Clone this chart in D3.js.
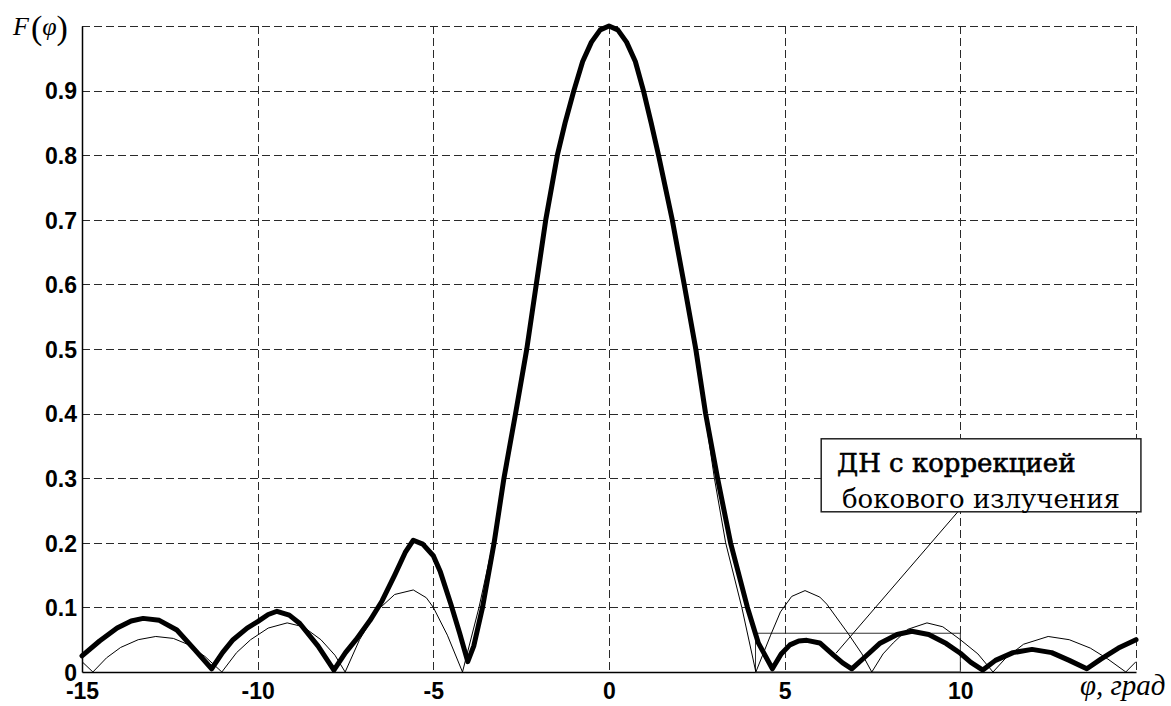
<!DOCTYPE html>
<html>
<head>
<meta charset="utf-8">
<script src="https://cdn.jsdelivr.net/npm/d3@7"></script>
<style>
  body { margin: 0; background: #fff; }
  svg { display: block; }
  .tick text { font-family: "Liberation Sans", Arial, sans-serif; font-weight: bold; font-size: 23px; fill: #000; }
</style>
</head>
<body>
<svg width="1171" height="706"></svg>
<script>
// ДН без коррекции (тонкая линия)
var phiPlain = [-15, -14.69, -14.3, -13.9, -13.4, -12.9, -12.4, -12, -11.5, -11.02, -10.6, -10.2, -9.7, -9.16,
  -8.7, -8.2, -7.8, -7.51, -7.1, -6.6, -6.1, -5.57, -5.2, -5, -4.6, -4.17,
  -3.7, -3.3, -3, -2.67, -2.36, -2.07, -1.8, -1.45, -1.25, -1, -0.75, -0.5, -0.25, 0,
  0.25, 0.5, 0.75, 1, 1.22, 1.43, 1.8, 2.12, 2.43, 2.73, 3, 3.32, 3.78, 4.18,
  4.6, 4.88, 5.2, 5.58, 6, 6.2, 6.8, 7.2, 7.48, 7.8, 8.09, 8.5, 9.05, 9.5, 10, 10.5, 10.93,
  11.3, 11.8, 12.5, 13.1, 13.7, 14.2, 14.71, 15];
var fPlain = [0.016, 0, 0.022, 0.038, 0.05, 0.055, 0.052, 0.043, 0.024, 0, 0.03, 0.05, 0.068, 0.076,
  0.07, 0.05, 0.026, 0, 0.05, 0.095, 0.12, 0.127, 0.115, 0.1, 0.057, 0,
  0.1, 0.2, 0.3, 0.4, 0.5, 0.6, 0.7, 0.8, 0.85, 0.9, 0.945, 0.975, 0.994, 1,
  0.994, 0.975, 0.945, 0.9, 0.85, 0.8, 0.7, 0.6, 0.5, 0.4, 0.3, 0.2, 0.1, 0,
  0.057, 0.093, 0.117, 0.126, 0.116, 0.105, 0.06, 0.028, 0, 0.028, 0.045, 0.066, 0.076, 0.07, 0.05, 0.028, 0,
  0.022, 0.043, 0.055, 0.05, 0.037, 0.02, 0, 0.016];

// ДН с коррекцией бокового излучения (толстая линия)
var phiCorr = [-15, -14.5, -14, -13.6, -13.26, -12.8, -12.3, -11.8, -11.31, -11, -10.7, -10.3, -10, -9.7, -9.45,
  -9.1, -8.8, -8.28, -7.83, -7.5, -7.2, -6.8, -6.46, -6.1, -5.8, -5.57, -5.3, -5, -4.8, -4.5, -4.25, -4.02,
  -3.85, -3.6, -3.27, -2.99, -2.66, -2.34, -2.07, -1.8, -1.47, -1.25, -1, -0.75, -0.5, -0.25, 0,
  0.25, 0.5, 0.75, 0.98, 1.2, 1.41, 1.8, 2.14, 2.47, 2.75, 3.09, 3.46, 3.94, 4.25, 4.65,
  4.9, 5.15, 5.4, 5.63, 6, 6.39, 6.65, 6.91, 7.3, 7.7, 8.2, 8.62, 9.1, 9.6, 10, 10.3, 10.64,
  11, 11.5, 12.04, 12.6, 13.1, 13.6, 14, 14.5, 15];
var fCorr = [0.025, 0.048, 0.068, 0.079, 0.083, 0.08, 0.065, 0.035, 0.005, 0.03, 0.05, 0.068, 0.078, 0.089, 0.094,
  0.088, 0.075, 0.04, 0.003, 0.03, 0.05, 0.08, 0.11, 0.15, 0.185, 0.204, 0.198, 0.18, 0.155, 0.105, 0.06, 0.016,
  0.04, 0.1, 0.2, 0.3, 0.4, 0.5, 0.6, 0.7, 0.8, 0.85, 0.9, 0.945, 0.975, 0.994, 1,
  0.994, 0.975, 0.945, 0.9, 0.85, 0.8, 0.7, 0.6, 0.5, 0.4, 0.3, 0.2, 0.1, 0.045, 0.005,
  0.028, 0.042, 0.048, 0.049, 0.045, 0.026, 0.014, 0.005, 0.024, 0.044, 0.058, 0.063, 0.058, 0.044, 0.029, 0.015, 0.003,
  0.018, 0.03, 0.035, 0.03, 0.018, 0.005, 0.02, 0.037, 0.05];

var xTicks = [-15, -10, -5, 0, 5, 10];
var xGrid = [-10, -5, 0, 5, 10, 15];
var yTicks = [0, 0.1, 0.2, 0.3, 0.4, 0.5, 0.6, 0.7, 0.8, 0.9];
var yGrid = [0.1, 0.2, 0.3, 0.4, 0.5, 0.6, 0.7, 0.8, 0.9, 1];

// выделенная область и выноска
var zone = [4.17, 10, 0, 0.06];          // x0, x1, y0, y1
var noteBox = [6.04, 15.14, 0.248, 0.361];
var notePointer = [9.93, 0.248, 6.46, 0.029];
var noteLines = ["ДН с коррекцией", "бокового излучения"];
var noteAnchors = [[6.49, 0.31], [6.63, 0.254]];

var svg = d3.select("svg"),
    margin = {top: 26, right: 35, bottom: 34, left: 82},
    width = +svg.attr("width"),
    height = +svg.attr("height");

var x = d3.scaleLinear().domain([-15, 15]).range([margin.left, width - margin.right]),
    y = d3.scaleLinear().domain([0, 1]).range([height - margin.bottom, margin.top]);

// сетка
var grid = svg.append("g")
    .attr("stroke", "#2a2a2a")
    .attr("stroke-width", 1)
    .attr("stroke-dasharray", "8,4");

grid.selectAll(".gx")
  .data(xGrid)
  .enter().append("line")
    .attr("x1", function(d) { return Math.round(x(d)) + 0.5; })
    .attr("x2", function(d) { return Math.round(x(d)) + 0.5; })
    .attr("y1", y(1))
    .attr("y2", y(0));

grid.selectAll(".gy")
  .data(yGrid)
  .enter().append("line")
    .attr("x1", x(-15))
    .attr("x2", x(15))
    .attr("y1", function(d) { return Math.round(y(d)) + 0.5; })
    .attr("y2", function(d) { return Math.round(y(d)) + 0.5; });

// оси
var xAxis = svg.append("g")
    .attr("transform", "translate(0," + y(0) + ")")
    .call(d3.axisBottom(x).tickValues(xTicks).tickSize(0).tickFormat(function(d) { return String(d); }));
xAxis.select(".domain").attr("stroke", "#000").attr("stroke-width", 1.5);
xAxis.selectAll(".tick text").attr("dy", null).attr("y", 27);

var yAxis = svg.append("g")
    .attr("transform", "translate(" + x(-15) + ",0)")
    .call(d3.axisLeft(y).tickValues(yTicks).tickSize(0).tickPadding(5).tickFormat(function(d) { return String(d); }));
yAxis.select(".domain").attr("stroke", "#000").attr("stroke-width", 1.5);
yAxis.selectAll(".tick text").attr("dy", "0.36em");

// область коррекции
svg.append("rect")
    .attr("x", x(zone[0]))
    .attr("y", y(zone[3]))
    .attr("width", x(zone[1]) - x(zone[0]))
    .attr("height", y(zone[2]) - y(zone[3]))
    .attr("fill", "none")
    .attr("stroke", "#333")
    .attr("stroke-width", 1);

var line = d3.line()
    .x(function(d) { return x(d[0]); })
    .y(function(d) { return y(d[1]); });

svg.append("path")
    .datum(d3.zip(phiPlain, fPlain))
    .attr("fill", "none")
    .attr("stroke", "#000")
    .attr("stroke-width", 1)
    .attr("d", line);

svg.append("path")
    .datum(d3.zip(phiCorr, fCorr))
    .attr("fill", "none")
    .attr("stroke", "#000")
    .attr("stroke-width", 5)
    .attr("stroke-linejoin", "round")
    .attr("stroke-linecap", "round")
    .attr("d", line);

// выноска
svg.append("line")
    .attr("x1", x(notePointer[0]))
    .attr("y1", y(notePointer[1]))
    .attr("x2", x(notePointer[2]))
    .attr("y2", y(notePointer[3]))
    .attr("stroke", "#000")
    .attr("stroke-width", 1);

svg.append("rect")
    .attr("x", x(noteBox[0]))
    .attr("y", y(noteBox[3]))
    .attr("width", x(noteBox[1]) - x(noteBox[0]))
    .attr("height", y(noteBox[2]) - y(noteBox[3]))
    .attr("fill", "#fff")
    .attr("stroke", "#222")
    .attr("stroke-width", 1.5);

svg.selectAll(".note")
  .data(noteLines)
  .enter().append("text")
    .attr("x", function(d, i) { return x(noteAnchors[i][0]); })
    .attr("y", function(d, i) { return y(noteAnchors[i][1]); })
    .attr("font-family", "'DejaVu Serif', serif")
    .attr("font-size", 26)
    .attr("fill", "#000")
    .attr("stroke", function(d, i) { return i === 0 ? "#000" : "none"; })
    .attr("stroke-width", 0.6)
    .text(function(d) { return d; });

// подписи осей
var fl = svg.append("text")
    .attr("x", 13)
    .attr("y", 35)
    .attr("font-family", "'Liberation Serif', serif")
    .attr("font-size", 26)
    .attr("fill", "#000");
fl.append("tspan").attr("font-style", "italic").text("F");
fl.append("tspan").attr("font-size", 34).attr("dx", 2).attr("dy", 4).text("(");
fl.append("tspan").attr("font-style", "italic").attr("dy", -4).text("φ");
fl.append("tspan").attr("font-size", 34).attr("dy", 4).text(")");

svg.append("text")
    .attr("x", 1080)
    .attr("y", 695)
    .attr("font-family", "'Liberation Serif', serif")
    .attr("font-style", "italic")
    .attr("font-size", 29)
    .attr("fill", "#000")
    .text("φ, град");
</script>
</body>
</html>
